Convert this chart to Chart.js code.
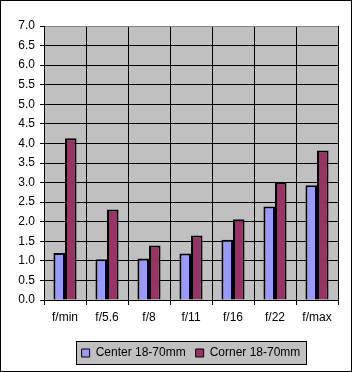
<!DOCTYPE html>
<html>
<head>
<meta charset="utf-8">
<script src="https://cdn.jsdelivr.net/npm/chart.js@4"></script>
<style>
  html, body { margin: 0; padding: 0; background: #fff; }
  canvas { display: block; }
</style>
</head>
<body>
<canvas id="chart" width="353" height="372"></canvas>
<script>
/* ── Sharpness chart — center vs corner ───────────────── */

var categories = ['f/min', 'f/5.6', 'f/8', 'f/11', 'f/16', 'f/22', 'f/max'];
var centerValues = [1.20, 1.04, 1.06, 1.19, 1.54, 2.39, 2.93];
var cornerValues = [4.13, 2.31, 1.39, 1.65, 2.06, 3.00, 3.82];
var seriesNames = ['Center 18-70mm', 'Corner 18-70mm'];

var FONT = 'Arial, "Liberation Sans", sans-serif';

// Background, outer border, plot fill, legend box
var backdrop = {
  id: 'backdrop',
  afterLayout: function (chart) {
    // centre the legend under the plot area, text midline at y≈352
    var lg = chart.legend, ca = chart.chartArea;
    var dx = (ca.left + ca.right) / 2 - (lg.left + lg.right) / 2;
    lg.left += dx; lg.right += dx;
    var pad = lg.options.labels.padding;
    var dy = 353 - (lg.top + pad + 6);
    lg.top += dy; lg.bottom += dy;
  },
  beforeDraw: function (chart) {
    var c = chart.ctx, ca = chart.chartArea;
    c.save();
    c.fillStyle = '#fff';
    c.fillRect(0, 0, chart.width, chart.height);
    c.strokeStyle = '#000';
    c.lineWidth = 1;
    c.strokeRect(0.5, 0.5, chart.width - 2, chart.height - 1);
    c.fillStyle = '#c0c0c0';
    c.fillRect(ca.left, ca.top, ca.right - ca.left, ca.bottom - ca.top);

    var hb = chart.legend.legendHitBoxes;
    if (hb && hb.length) {
      var l = hb[0].left, r = hb[hb.length - 1].left + hb[hb.length - 1].width;
      var t = hb[0].top, b = hb[0].top + hb[0].height;
      var x0 = Math.round(l - 6) + 0.5, x1 = Math.round(r + 6) + 0.5;
      var y0 = Math.round(t - 6) + 0.5, y1 = Math.round(b + 5) + 0.5;
      c.fillStyle = '#c0c0c0';
      c.fillRect(x0, y0, x1 - x0, y1 - y0);
      c.strokeStyle = '#000';
      c.strokeRect(x0, y0, x1 - x0, y1 - y0);
    }
    c.restore();
  }
};

new Chart(document.getElementById('chart'), {
  type: 'bar',
  data: {
    labels: categories,
    datasets: [{
      label: seriesNames[0],
      data: centerValues,
      backgroundColor: '#9999ff',
      borderColor: '#000',
      borderWidth: 2,
      categoryPercentage: 0.55,
      barPercentage: 1.0
    }, {
      label: seriesNames[1],
      data: cornerValues,
      backgroundColor: '#993366',
      borderColor: '#000',
      borderWidth: 2,
      categoryPercentage: 0.55,
      barPercentage: 1.0
    }]
  },
  options: {
    responsive: false,
    animation: false,
    devicePixelRatio: 1,
    layout: { padding: { top: 26, right: 15, left: 0, bottom: 4 } },
    plugins: {
      tooltip: { enabled: false },
      legend: {
        position: 'bottom',
        labels: {
          font: { family: FONT, size: 12 },
          color: '#000',
          boxWidth: 8,
          boxHeight: 8,
          padding: 10,
          generateLabels: function (chart) {
            return chart.data.datasets.map(function (ds, i) {
              return {
                text: ds.label,
                fillStyle: ds.backgroundColor,
                strokeStyle: '#000',
                lineWidth: 1,
                hidden: false,
                datasetIndex: i
              };
            });
          }
        }
      }
    },
    scales: {
      x: {
        grid: {
          offset: true,
          color: function (ctx) { return ctx.index === categories.length ? '#808080' : '#000'; },
          tickColor: '#000',
          tickLength: 5,
          lineWidth: 1
        },
        border: { color: '#000', width: 1 },
        ticks: { font: { family: FONT, size: 12 }, color: '#000', padding: 5 },
        afterFit: function (scale) { scale.height = 36; }
      },
      y: {
        min: 0,
        max: 7,
        grid: {
          color: function (ctx) { return ctx.tick && ctx.tick.value === 7 ? '#808080' : '#000'; },
          tickColor: '#000',
          tickLength: 4,
          lineWidth: 1
        },
        border: { color: '#000', width: 1 },
        ticks: {
          stepSize: 0.5,
          font: { family: FONT, size: 12 },
          color: '#000',
          padding: 5,
          callback: function (v) { return Number(v).toFixed(1); }
        },
        afterFit: function (scale) { scale.width = 44; }
      }
    }
  },
  plugins: [backdrop]
});
</script>
</body>
</html>
